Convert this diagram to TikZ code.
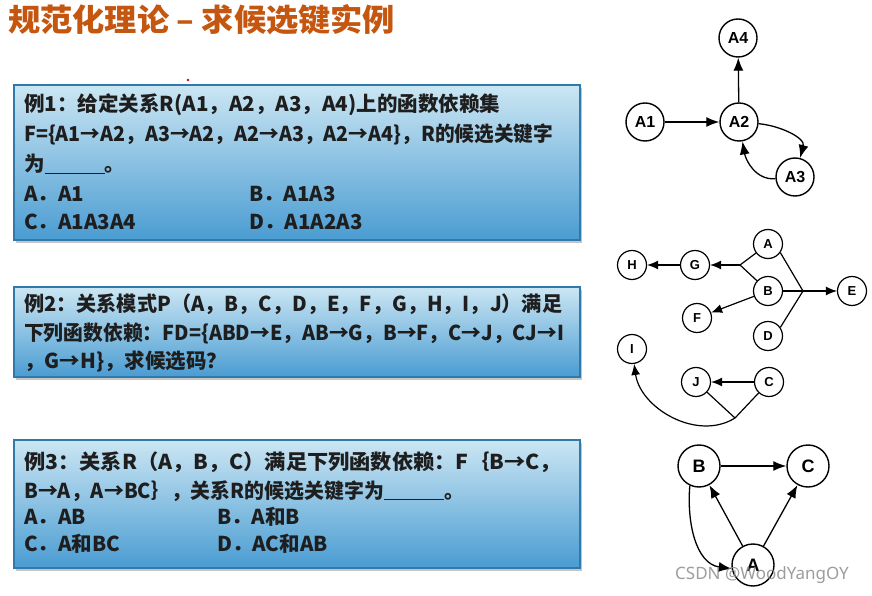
\documentclass[tikz,border=0pt]{standalone}
\usepackage{fontspec}
\usepackage{graphicx}
\setmainfont{Liberation Sans}
\newfontfamily\cjk{Noto Sans CJK SC}
\newfontfamily\wmfont{Noto Sans}
\usetikzlibrary{arrows.meta,shadows}
\newcommand{\fitw}[2]{\resizebox{#1}{\height}{#2}}
\definecolor{titlec}{HTML}{C4560F}
\definecolor{boxtop}{HTML}{CBE6F3}
\definecolor{boxbot}{HTML}{4A9CD2}
\definecolor{boxline}{HTML}{2F7AAA}
\definecolor{txt}{HTML}{1E1E1E}
\begin{document}
\begin{tikzpicture}[x=1pt,y=1pt,
 qbox/.style={draw=boxline, line width=1.2pt, top color=boxtop, bottom color=boxbot,
   minimum width=566pt, inner sep=0pt,
   drop shadow={shadow xshift=2pt,shadow yshift=-3pt,opacity=0.45}},
 qtext/.style={anchor=west, inner sep=0pt, font=\cjk\bfseries\fontsize{20.5}{20.5}\selectfont, text=txt},
 g1/.style={circle, draw, line width=1.4pt, minimum size=38pt, inner sep=0pt, font=\bfseries\fontsize{16}{16}\selectfont},
 g2/.style={circle, draw, line width=1.2pt, minimum size=29pt, inner sep=0pt, font=\bfseries\fontsize{13}{13}\selectfont},
 g3/.style={circle, draw, line width=1.4pt, minimum size=42pt, inner sep=0pt, font=\bfseries\fontsize{18}{18}\selectfont},
 arr/.style={-{Latex[length=13pt,width=10pt]}, line width=1.3pt},
 arrs/.style={-{Latex[length=11pt,width=9pt]}, line width=1.2pt},
 ln/.style={line width=1.2pt}]
\useasboundingbox (0,0) rectangle (872,595);
\fill[white] (0,0) rectangle (872,595);

% title
\node[anchor=west, inner sep=0pt, font=\cjk\bfseries\fontsize{31}{31}\selectfont, text=titlec] (title) at (8,575) {\fitw{387pt}{规范化理论 – 求候选键实例}};
\fill[red!80!black] (188,515) circle (1.3pt);

% boxes
\node[qbox, minimum height=155pt] (box1) at (297,432.5) {};
\node[qbox, minimum height=90pt] (box2) at (297,263) {};
\node[qbox, minimum height=128pt] (box3) at (297,91) {};

% box 1 text
\node[qtext] (b1l1) at (24,490) {\fitw{476pt}{例1：给定关系R(A1，A2，A3，A4)上的函数依赖集}};
\node[qtext] (b1l2) at (24,461) {\fitw{529pt}{F=\{A1→A2，A3→A2，A2→A3，A2→A4\}，R的候选关键字}};
\node[qtext] (b1l3) at (24,431) {为\underline{\hspace{60pt}}。};
\node[qtext] (b1oa) at (24,401) {A．A1};
\node[qtext] (b1ob) at (249,401) {B．A1A3};
\node[qtext] (b1oc) at (24,373) {C．A1A3A4};
\node[qtext] (b1od) at (249,373) {D．A1A2A3};

% box 2 text
\node[qtext] (b2l1) at (24,291) {\fitw{538pt}{例2：关系模式P（A，B，C，D，E，F，G，H，I，J）满足}};
\node[qtext] (b2l2) at (24,262) {\fitw{540pt}{下列函数依赖：FD=\{ABD→E，AB→G，B→F，C→J，CJ→I}};
\node[qtext] (b2l3) at (24,234) {，G→H\}，求候选码？};

% box 3 text
\node[qtext] (b3l1) at (24,133) {\fitw{537pt}{例3：关系R（A，B，C）满足下列函数依赖：F｛B→C，}};
\node[qtext] (b3l2) at (24,104) {\fitw{440pt}{B→A，A→BC｝，关系R的候选关键字为\underline{\hspace{62pt}}。}};
\node[qtext] (b3oa) at (24,78) {A．AB};
\node[qtext] (b3ob) at (217,78) {B．A和B};
\node[qtext] (b3oc) at (24,51) {C．A和BC};
\node[qtext] (b3od) at (217,51) {D．AC和AB};

% graph 1
\node[g1] (A4) at (738,557) {A4};
\node[g1] (A1) at (645,473) {A1};
\node[g1] (A2) at (739,473) {A2};
\node[g1] (A3) at (795,418) {A3};
\draw[arr] (A1) -- (A2);
\draw[arr] (A2) -- (A4);
\draw[arr] (A2) to[out=-5,in=75] (A3);
\draw[arr] (A3) to[out=185,in=-80] (A2);

% graph 2
\node[g2] (gA) at (768,351) {A};
\node[g2] (gB) at (768,304) {B};
\node[g2] (gD) at (768,259) {D};
\node[g2] (gE) at (852,304) {E};
\node[g2] (gG) at (695,330) {G};
\node[g2] (gH) at (632,330) {H};
\node[g2] (gF) at (697,277) {F};
\node[g2] (gI) at (632,246) {I};
\node[g2] (gJ) at (696,213) {J};
\node[g2] (gC) at (769,213) {C};
\coordinate (j1) at (740,330);
\coordinate (j2) at (803,304);
\coordinate (k) at (735,177);
\draw[ln] (gA) -- (j1);
\draw[ln] (gB) -- (j1);
\draw[arrs] (j1) -- (gG);
\draw[arrs] (gG) -- (gH);
\draw[ln] (gA.-35) -- (j2);
\draw[ln] (gD.35) -- (j2);
\draw[ln] (gB) -- (j2);
\draw[arrs] (j2) -- (gE);
\draw[arrs] (gB) -- (gF);
\draw[arrs] (gC) -- (gJ);
\draw[ln] (gJ) -- (k);
\draw[ln] (gC) -- (k);
\draw[arrs] (k) to[out=-148,in=-82] (gI);

% graph 3
\node[g3] (cB) at (699,129) {B};
\node[g3] (cC) at (808,129) {C};
\node[g3] (cA) at (753,30) {A};
\draw[arr] (cB) -- (cC);
\draw[arr] (cA) -- (cB);
\draw[arr] (cA) -- (cC);
\draw[arr] (cB.245) to[out=-95,in=172] (cA.190);

% watermark
\node[inner sep=0pt, font=\wmfont\fontsize{17}{17}\selectfont, text=black!45, opacity=0.85] (wm) at (762,20) {CSDN @WoodYangOY};
\end{tikzpicture}
\end{document}
